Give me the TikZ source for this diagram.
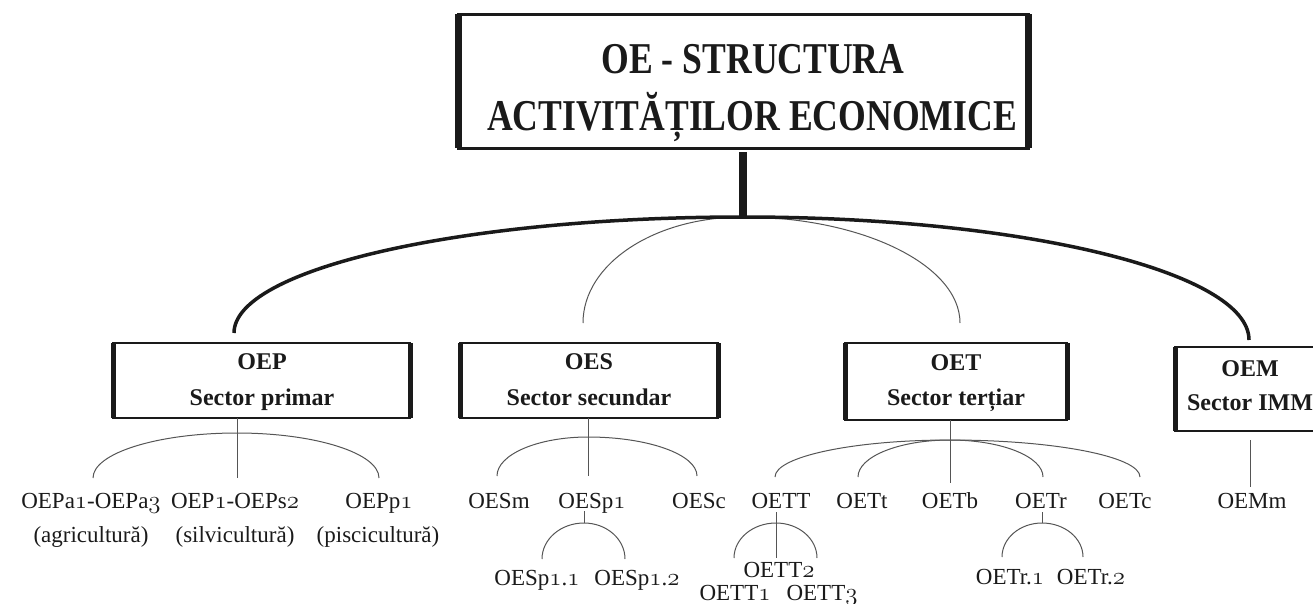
\documentclass[tikz,border=0pt]{standalone}
\usepackage{fontspec}
\usetikzlibrary{calc}
\setmainfont{Liberation Serif}
\newfontfamily\ttlfont[FakeStretch=0.81]{Liberation Serif}
\newcommand\os[1]{{\usefont{OML}{cmm}{m}{it}#1}}
\definecolor{ink}{HTML}{1A1A1A}
\definecolor{thinc}{HTML}{555555}
\tikzset{
 thickc/.style={draw=ink, line width=3.5},
 stemc/.style={draw=ink, line width=8},
 thinl/.style={draw=thinc, line width=1},
 tbox/.style={draw=ink, line width=3, outer sep=0, inner sep=0},
 sbox/.style={draw=ink, line width=2.5, outer sep=0, inner sep=0},
 tside/.style={draw=ink, line width=7},
 side/.style={draw=ink, line width=5},
 ttl/.style={font=\ttlfont\bfseries\fontsize{44}{50}\selectfont, anchor=base, inner sep=0, text=ink},
 stxt/.style={font=\bfseries\fontsize{24}{28}\selectfont, anchor=base, inner sep=0, text=ink},
 lbl/.style={font=\fontsize{23}{27}\selectfont, anchor=base, inner sep=0, text=ink},
}
\newcommand\brak[3]{\draw[thinl] (#1) .. controls ($(#1)!0.552!(#1|-#2)$) and ($(#2)!0.552!(#1|-#2)$) .. (#2) .. controls ($(#2)!0.552!(#3|-#2)$) and ($(#3)!0.552!(#3|-#2)$) .. (#3);}
\begin{document}
\begin{tikzpicture}[x=1pt,y=-1pt]
\useasboundingbox (0,0) rectangle (1313,603);
% title
\node[tbox, minimum width=570, minimum height=134] (OE) at (743,81) {};
\draw[tside] (OE.north west) -- (OE.south west);
\draw[tside] (OE.north east) -- (OE.south east);
\node[ttl] (OE1) at (753,73) {OE - STRUCTURA};
\node[ttl] (OE2) at (752,130) {ACTIVITĂȚILOR ECONOMICE};
\coordinate (J) at (743,217);
\draw[stemc] ([yshift=-4pt]OE.south) -- (J);
% sector boxes
\node[sbox, minimum width=297, minimum height=75] (OEP) at (261.5,380.5) {};
\node[sbox, minimum width=258, minimum height=75] (OES) at (589,380.5) {};
\node[sbox, minimum width=222, minimum height=77] (OET) at (956,381.5) {};
\node[sbox, minimum width=155, minimum height=84] (OEM) at (1252.5,389) {};
\foreach \b in {OEP,OES,OET,OEM}{
  \draw[side] (\b.north west) -- (\b.south west);
  \draw[side] (\b.north east) -- (\b.south east);
}
\node[stxt] (OEPn) at (262,369) {OEP};
\node[stxt] (OEPs) at (262,405) {Sector primar};
\node[stxt] (OESn) at (589,369) {OES};
\node[stxt] (OESs) at (589,405) {Sector secundar};
\node[stxt] (OETn) at (956,370) {OET};
\node[stxt] (OETs) at (956,405) {Sector terțiar};
\node[stxt] (OEMn) at (1250,376) {OEM};
\node[stxt] (OEMs) at (1250,410) {Sector IMM};
% main arcs
\coordinate (OEPin) at (234,333);
\coordinate (OESin) at (583,323);
\coordinate (OETin) at (960,323);
\coordinate (OEMin) at (1249,340);
\draw[thinl] (J) .. controls (654,217) and (583,264) .. (OESin);
\draw[thinl] (J) .. controls (862,217) and (960,265) .. (OETin);
\draw[thickc] (J) .. controls (462,217) and (234,269) .. (OEPin);
\draw[thickc] (J) .. controls (1022,217) and (1249,272) .. (OEMin);
% leaf labels
\node[lbl] (OEPa) at (91,508) {OEPa\os{1}-OEPa\os{3}};
\node[lbl] (OEPs2) at (235,508) {OEP\os{1}-OEPs\os{2}};
\node[lbl] (OEPp) at (379,508) {OEPp\os{1}};
\node[lbl] (OEPaT) at (91,542) {(agricultură)};
\node[lbl] (OEPsT) at (235,542) {(silvicultură)};
\node[lbl] (OEPpT) at (378,542) {(piscicultură)};
\node[lbl] (OESm) at (499,508) {OESm};
\node[lbl] (OESp) at (592,508) {OESp\os{1}};
\node[lbl] (OESc) at (699,508) {OESc};
\node[lbl] (OETT) at (781,508) {OETT};
\node[lbl] (OETt) at (862,508) {OETt};
\node[lbl] (OETb) at (950,508) {OETb};
\node[lbl] (OETr) at (1041,508) {OETr};
\node[lbl] (OETc) at (1125,508) {OETc};
\node[lbl] (OEMm) at (1252,508) {OEMm};
\node[lbl] (OESp11) at (537,585) {OESp\os{1}.\os{1}};
\node[lbl] (OESp12) at (637,585) {OESp\os{1}.\os{2}};
\node[lbl] (OETT2) at (779,577) {OETT\os{2}};
\node[lbl] (OETT1) at (735,600) {OETT\os{1}};
\node[lbl] (OETT3) at (822,600) {OETT\os{3}};
\node[lbl] (OETr1) at (1010,584) {OETr.\os{1}};
\node[lbl] (OETr2) at (1091,584) {OETr.\os{2}};
% OEP bracket
\coordinate (pA) at (93,478); \coordinate (pT) at (237,433); \coordinate (pC) at (379,478);
\draw[thinl] (pT |- OEP.south) -- (pT |- pA);
\brak{pA}{pT}{pC}
% OES bracket
\coordinate (sA) at (497,476); \coordinate (sT) at (588,437); \coordinate (sC) at (697,476);
\draw[thinl] (sT |- OES.south) -- (sT |- sA);
\brak{sA}{sT}{sC}
% OESp1 bracket
\coordinate (s1S) at (584,511); \coordinate (s1A) at (542,559); \coordinate (s1T) at (584,523); \coordinate (s1C) at (625,559);
\draw[thinl] (s1S) -- (s1T);
\brak{s1A}{s1T}{s1C}
% OET brackets
\coordinate (tA) at (775,477); \coordinate (tT) at (950,440); \coordinate (tC) at (1140,477);
\coordinate (tB1) at (858,477); \coordinate (tB2) at (1043,477); \coordinate (tS) at (950,483);
\draw[thinl] (tT |- OET.south) -- (tS);
\brak{tA}{tT}{tC}
\brak{tB1}{tT}{tB2}
% OETT bracket
\coordinate (ttS) at (776,512); \coordinate (ttA) at (734,558); \coordinate (ttT) at (776,523); \coordinate (ttC) at (817,558);
\draw[thinl] (ttS) -- (ttT |- ttA);
\brak{ttA}{ttT}{ttC}
% OETr bracket
\coordinate (trS) at (1042,512); \coordinate (trA) at (1002,557); \coordinate (trT) at (1042,523); \coordinate (trC) at (1083,557);
\draw[thinl] (trS) -- (trT);
\brak{trA}{trT}{trC}
% OEM stem
\coordinate (mS) at (1250,440); \coordinate (mE) at (1250,487);
\draw[thinl] (mS) -- (mE);
\end{tikzpicture}
\end{document}
